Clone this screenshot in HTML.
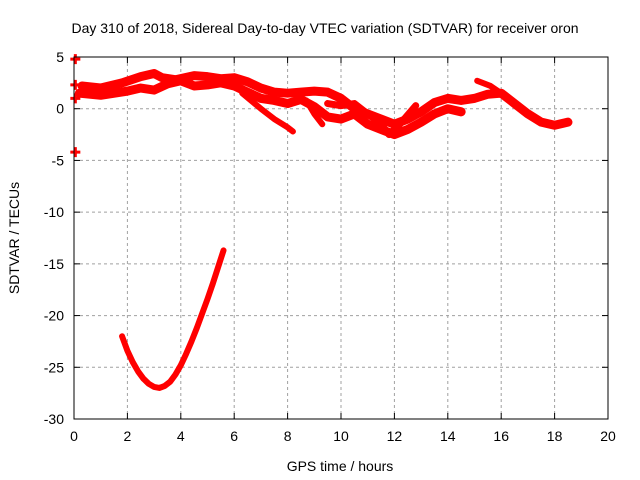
<!DOCTYPE html>
<html><head><meta charset="utf-8"><style>
body{margin:0;background:#fff}
svg{display:block;font-family:"Liberation Sans",sans-serif}
</style></head><body>
<svg id="c" width="640" height="480">
<text x="325" y="33" font-size="14" text-anchor="middle">Day 310 of 2018, Sidereal Day-to-day VTEC variation (SDTVAR) for receiver oron</text>
<text x="340" y="471" font-size="14" text-anchor="middle">GPS time / hours</text>
<text transform="translate(19,238) rotate(-90)" font-size="14" text-anchor="middle">SDTVAR / TECUs</text>
<g id="grid"></g><g id="ticks"></g><g id="series"></g>
<rect x="74" y="57" width="534" height="362" fill="none" stroke="#000" stroke-width="1"/>
</svg>
<script>
const xTicks=[0,2,4,6,8,10,12,14,16,18,20];
const yTicks=[5,0,-5,-10,-15,-20,-25,-30];
const trackUpperH=[0.3,1,1.8,2.5,3,3.3,3.8,4.5,5,5.5,6,6.5,7,7.5,8,8.5,9,9.5,10,10.5,11,11.5,12,12.5,13,13.5,14,14.5,15,15.5,16,16.5,17,17.5,18,18.5];
const trackUpperV=[2.2,2.0,2.5,3.1,3.4,3.0,2.8,3.2,3.1,2.9,3.0,2.6,2.0,1.6,1.5,1.6,1.7,1.6,1.0,0.0,-0.5,-1.0,-1.5,-1.0,-0.3,0.6,1.0,0.8,1.0,1.4,1.5,0.5,-0.5,-1.3,-1.6,-1.3];
const trackLowerH=[0.2,1,2,2.5,3,3.5,4,4.5,5,5.5,6,6.5,7,7.5,8,8.5,9,9.5,10,10.5,11,11.5,12,12.5,13,13.5,14,14.5];
const trackLowerV=[1.5,1.3,1.7,2.0,1.8,2.4,2.7,2.2,2.3,2.5,2.2,1.6,1.0,0.8,0.5,0.9,0.2,-0.8,-1.0,-0.5,-1.5,-2.0,-2.5,-2.0,-1.3,-0.5,0.0,-0.3];
const trackDipH=[6.3,7,7.5,8,8.2];
const trackDipV=[1.5,0,-1.0,-1.8,-2.2];
const trackB4H=[8.7,9,9.3];
const trackB4V=[0.8,-0.5,-1.5];
const trackB5H=[9.5,10,10.5,11,11.5,11.8,12.2,12.8];
const trackB5V=[0.5,0.3,0.5,-0.5,-1.5,-2.5,-1.5,0.3];
const trackB6H=[15.1,15.6,16];
const trackB6V=[2.7,2.2,1.5];
const curveH=[1.8,2.0,2.2,2.4,2.6,2.8,3.0,3.2,3.4,3.6,3.8,4.0,4.2,4.4,4.6,4.8,5.0,5.2,5.4,5.6];
const curveV=[-22,-23.4,-24.5,-25.4,-26.1,-26.6,-26.9,-27.0,-26.8,-26.4,-25.7,-24.8,-23.7,-22.5,-21.2,-19.8,-18.4,-16.9,-15.3,-13.7];
const dotsH=[0.05,0.05,0.05,0.05];
const dotsV=[4.8,2.3,1.0,-4.2];

const NS="http://www.w3.org/2000/svg";
const X=h=>74+h*(534/20);
const Y=v=>57+(5-v)*(362/35);
function mk(t,a,p){const e=document.createElementNS(NS,t);for(const k in a)e.setAttribute(k,a[k]);p.appendChild(e);return e;}
const grid=document.getElementById('grid'),ticks=document.getElementById('ticks'),ser=document.getElementById('series');
xTicks.forEach(t=>{
 if(t>0&&t<20){const g=mk('line',{x1:X(t),x2:X(t),y1:57,y2:419,stroke:'#a0a0a0','stroke-dasharray':'3,3'},grid);
 
 }
 mk('line',{x1:X(t),x2:X(t),y1:419,y2:413,stroke:'#000'},ticks);
 mk('line',{x1:X(t),x2:X(t),y1:57,y2:63,stroke:'#000'},ticks);
 const l=mk('text',{x:X(t),y:441,'font-size':14,'text-anchor':'middle'},ticks);l.textContent=t;
 
 
});
yTicks.forEach(t=>{
 if(t<5&&t>-30){const g=mk('line',{x1:74,x2:608,y1:Y(t),y2:Y(t),stroke:'#a0a0a0','stroke-dasharray':'3,3'},grid);
 
 }
 mk('line',{x1:74,x2:80,y1:Y(t),y2:Y(t),stroke:'#000'},ticks);
 mk('line',{x1:608,x2:602,y1:Y(t),y2:Y(t),stroke:'#000'},ticks);
 const l=mk('text',{x:64,y:Y(t)+5,'font-size':14,'text-anchor':'end'},ticks);l.textContent=t;
 
 
});
function line(hs,vs,w,name){
 const p=mk('polyline',{points:hs.map((h,i)=>X(h)+','+Y(vs[i])).join(' '),fill:'none',stroke:'#ff0000','stroke-width':w,'stroke-linejoin':'round','stroke-linecap':'round'},ser);
 
 
}
line(trackUpperH,trackUpperV,9,'series-track-upper');
line(trackLowerH,trackLowerV,9,'series-track-lower');
line(trackDipH,trackDipV,6,'series-track-dip');
line(trackB4H,trackB4V,6,'series-track-b4');
line(trackB5H,trackB5V,7,'series-track-b5');
line(trackB6H,trackB6V,6,'series-track-b6');
line(curveH,curveV,6,'series-curve');
dotsH.forEach((h,i)=>{
 const g=mk('path',{d:`M${X(h)-5},${Y(dotsV[i])}h10M${X(h)},${Y(dotsV[i])-5}v10`,stroke:'#ff0000','stroke-width':3},ser);
 
 
});
</script>
</body></html>
